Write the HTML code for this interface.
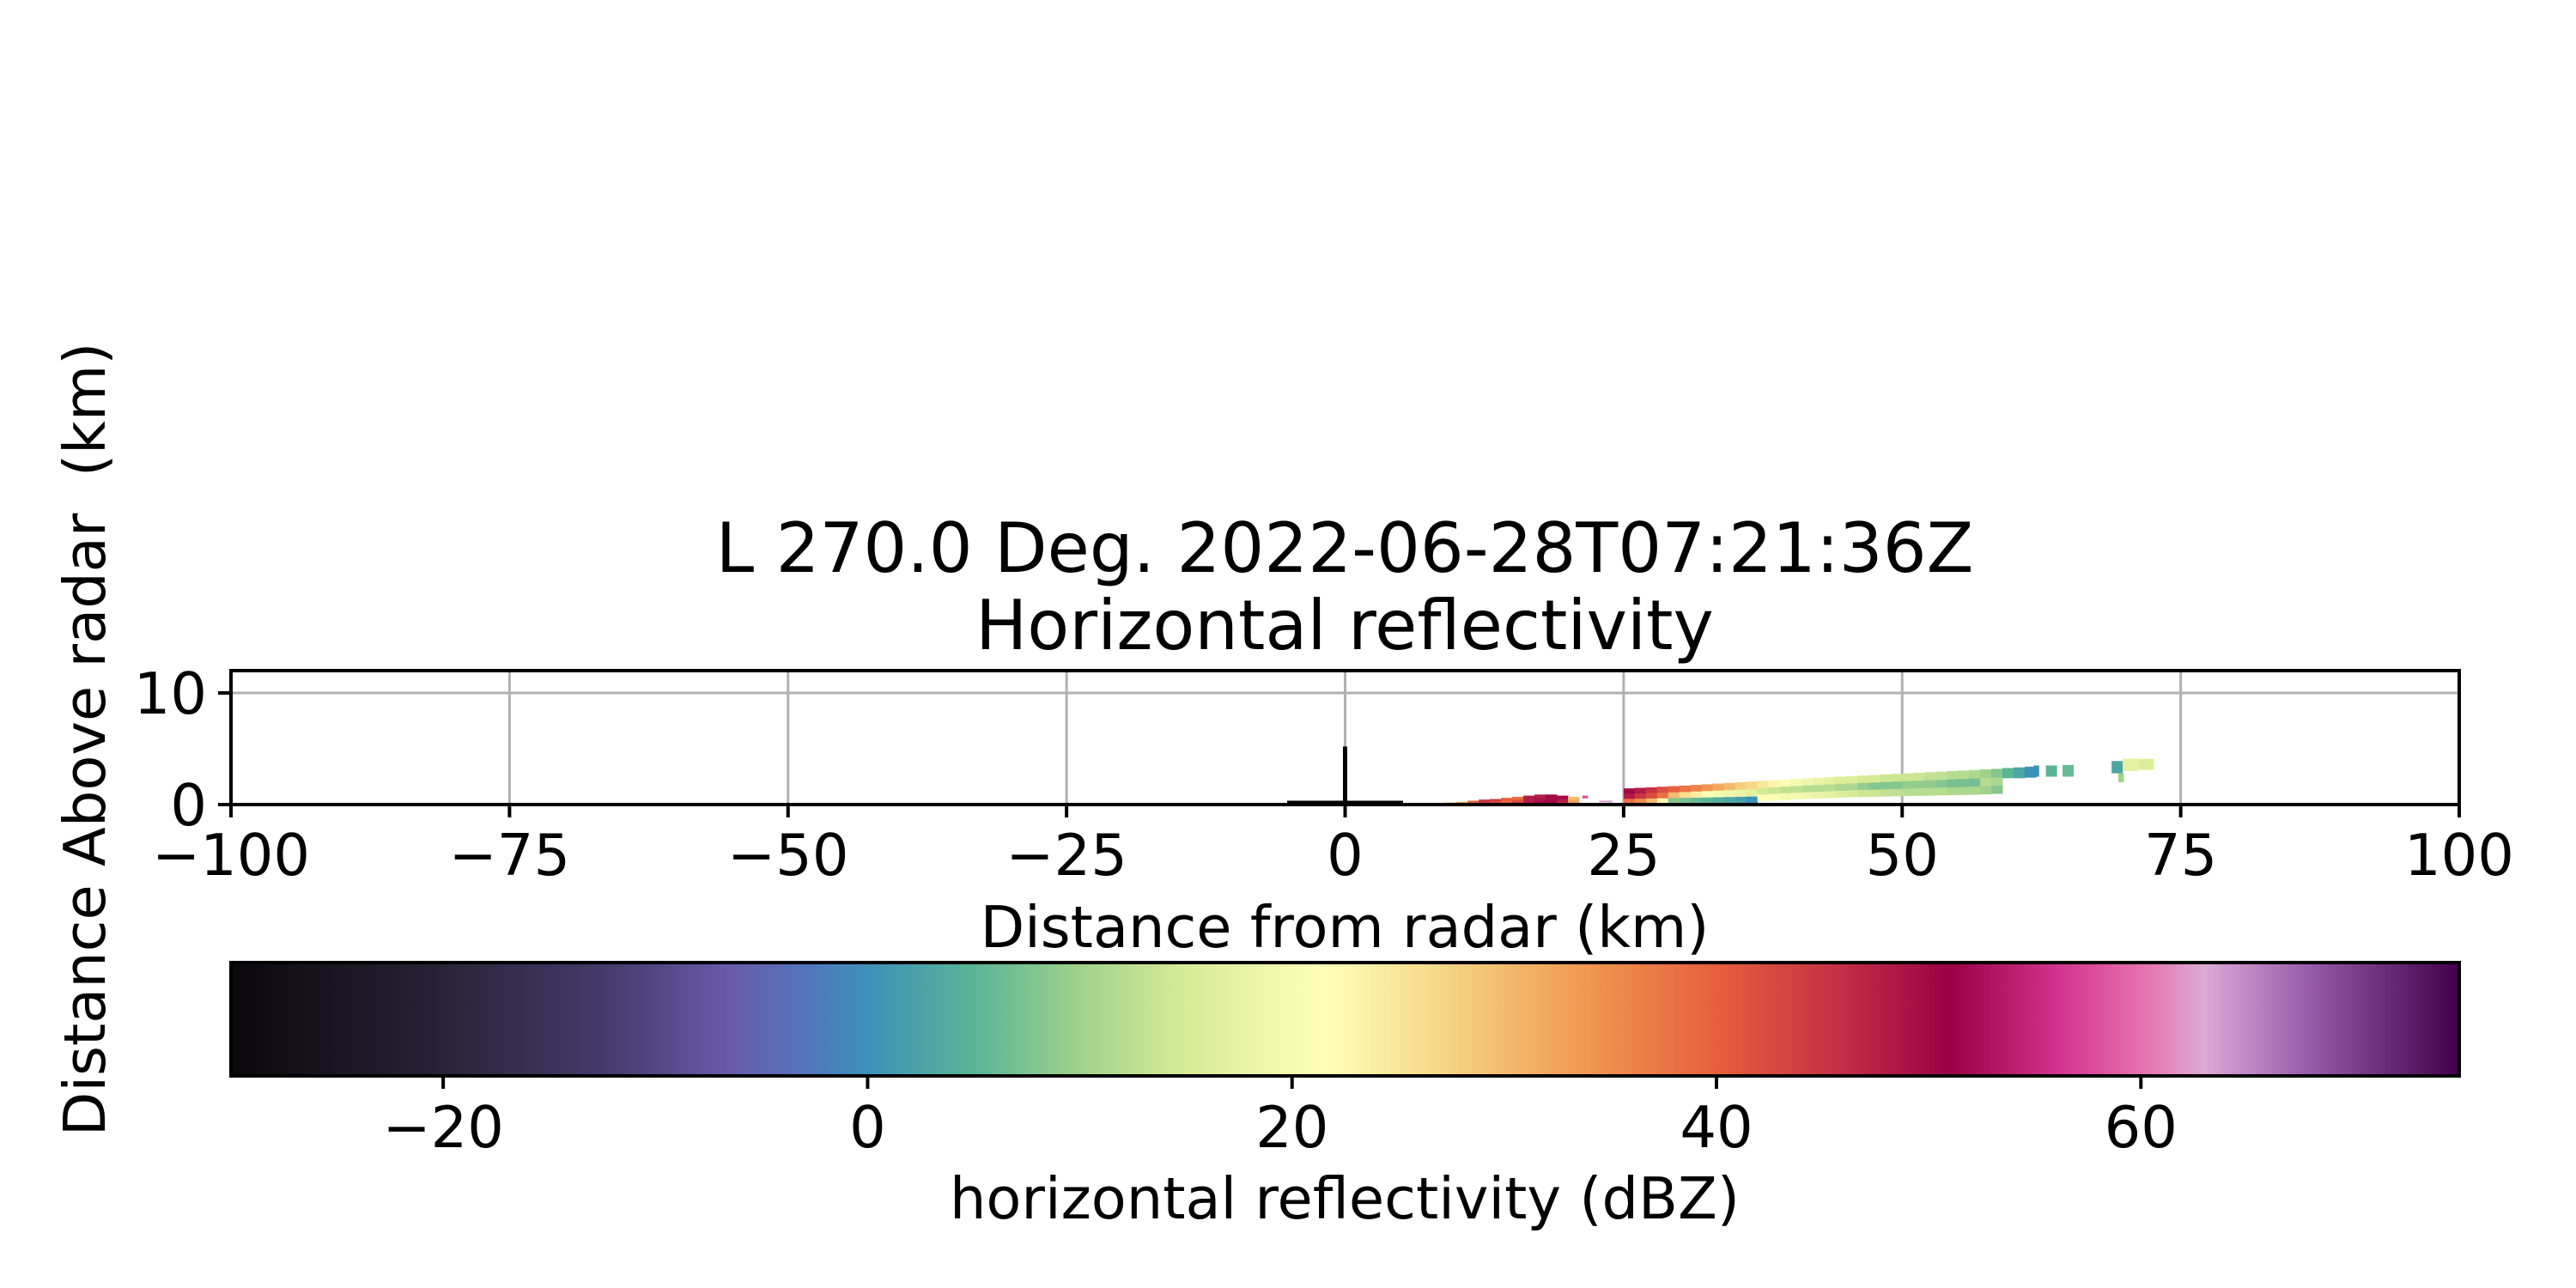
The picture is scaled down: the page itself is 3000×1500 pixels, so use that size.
<!DOCTYPE html>
<html><head><meta charset="utf-8"><style>
html,body{margin:0;padding:0;background:#fff;}
svg{display:block;font-family:"DejaVu Sans","Liberation Sans",sans-serif;}
</style></head><body>
<svg id="fig" width="3000" height="1500" viewBox="0 0 3000 1500" xmlns="http://www.w3.org/2000/svg">
<rect width="3000" height="1500" fill="#fff"/>
<text x="1566" y="666" font-size="80" text-anchor="middle">L 270.0 Deg. 2022-06-28T07:21:36Z</text>
<text x="1566" y="756" font-size="80" text-anchor="middle">Horizontal reflectivity</text>
<g id="grid"></g>
<g id="marks"></g>
<g id="axes"></g>
<text x="1566" y="1103" font-size="67" text-anchor="middle">Distance from radar (km)</text>
<text transform="translate(122,861) rotate(-90)" font-size="67" text-anchor="middle" xml:space="preserve">Distance Above radar  (km)</text>
<defs><linearGradient id="cmap" x1="0" x2="1" y1="0" y2="0"></linearGradient></defs>
<rect x="269" y="1121" width="2595" height="132" fill="url(#cmap)" stroke="#000" stroke-width="4"/>
<g id="cbticks"></g>
<text x="1566" y="1419" font-size="67" text-anchor="middle">horizontal reflectivity (dBZ)</text>
</svg>
<script>
// ---- data ----
const xTicks = [-100, -75, -50, -25, 0, 25, 50, 75, 100];
const yTicks = [0, 10];
const cbTicks = [-20, 0, 20, 40, 60];
const colRange = [6,7,8,9,10,11,12,13,14,15,16,17,18,19,20,
 25,26,27,28,29,30,31,32,33,34,35,36,37,38,39,40,41,42,43,44,45,46,47,48,49,50,51,52,53,54,55,56,57,58,59,60,61];
const colBottom = [0,0,0,0,0,0,0,0,0,0,0,0,0,0,0,
 0.1,0.1,0.1,0.1,0.1,0.1,0.1,0.1,0.1,0.1,0.1,0.1,0.35,0.4,0.45,0.5,0.55,0.58,0.62,0.66,0.7,0.72,0.74,0.76,0.78,0.8,0.82,0.84,0.86,0.88,0.9,0.92,0.95,1.0,2.4,2.4,2.45];
const colTop = [0.08,0.1,0.15,0.2,0.25,0.35,0.45,0.5,0.6,0.7,0.8,0.9,0.9,0.8,0.7,
 1.45,1.5,1.55,1.6,1.65,1.7,1.76,1.82,1.88,1.94,2.0,2.06,2.12,2.18,2.24,2.3,2.35,2.4,2.45,2.5,2.55,2.6,2.65,2.7,2.75,2.8,2.85,2.9,2.95,3.0,3.05,3.1,3.15,3.2,3.27,3.33,3.4];
const upperDbz = [-5,5,20,28,32,40,45,44,40,38,48,48,50,50,30,
 50,48,45,42,40,38,36,34,32,30,28,27,25,23,21,20,19,18,17,16,16,15,15,14,14,14,14,13,13,12,12,11,10,8,5,3,0];
const midDbz = [-5,6,21,26,31,41,45,42,39,42,48,49,50,48,32,
 48,45,42,38,30,26,24,22,20,19,18,17,15,14,13,13,12,12,12,11,11,9,8,8,8,9,9,9,8,7,7,7,12,11,5,3,0];
const lowerDbz = [-5,8,22,25,30,42,45,40,38,45,48,50,50,45,35,
 38,35,30,22,8,7,6,5,4,3,2,0,22,21,20,20,19,18,17,16,15,14,14,13,13,12,12,12,12,11,11,11,10,8,5,3,0];
// isolated gates: start km, end km, bottom km, top km, dBZ
const gateStart = [21.3, 22.8, 23.4, 61.8, 62.9, 64.4, 68.8, 69.4, 69.8, 71.2];
const gateEnd   = [21.8, 23.4, 24.0, 62.3, 63.9, 65.4, 69.8, 69.9, 71.2, 72.6];
const gateBot   = [0.55, 0.2, 0.2, 2.5, 2.5, 2.5, 2.8, 2.0, 3.0, 3.1];
const gateTopK  = [0.8, 0.35, 0.35, 3.5, 3.5, 3.55, 3.9, 2.8, 4.1, 4.1];
const gateDbz   = [58, 62, 64, 0, 5, 6, 3, 10, 17, 16];
// colormap stops
const cmVals = [-30,-20,-12,-6.5,-2.5,0,5,10,15,21.5,27,34,40,46,51,56,60.5,63,68,75];
const cmCols = ["#0a080c","#282337","#463c6e","#695aaa","#5078be","#3c91b9","#5ab496","#a0d28c","#d7eb96","#ffffb9","#f5d787","#f09650","#e65f3c","#c32d46","#9b0046","#d2328c","#e678b4","#dcaad7","#965aaa","#41004b"];

// ---- scales ----
const X0=269, X1=2864, Y0=937, Y1=781;
const xs = v => X0 + (v + 100) / 200 * (X1 - X0);
const ys = v => Y0 - v / 12 * (Y0 - Y1);
const cbs = v => X0 + (v + 30) / 105 * (X1 - X0);
const NS = "http://www.w3.org/2000/svg";
function hex(c){return [1,3,5].map(i=>parseInt(c.substr(i,2),16));}
function cmap(v){
  if(v<=cmVals[0]) return cmCols[0];
  for(let i=1;i<cmVals.length;i++){ if(v<=cmVals[i]){
    const t=(v-cmVals[i-1])/(cmVals[i]-cmVals[i-1]);const a=hex(cmCols[i-1]),b=hex(cmCols[i]);
    return "rgb("+a.map((x,j)=>Math.round(x+(b[j]-x)*t)).join(",")+")";}}
  return cmCols[cmCols.length-1];
}
function mk(tag, attrs, parent){const e=document.createElementNS(NS,tag);for(const k in attrs)e.setAttribute(k,attrs[k]);parent.appendChild(e);return e;}

// gradient
const grad=document.getElementById("cmap");
cmVals.forEach((v,i)=>{mk("stop",{offset:((v+30)/105*100)+"%","stop-color":cmCols[i]},grad);});

// grid
const grid=document.getElementById("grid");
xTicks.forEach(t=>{const l=mk("line",{x1:xs(t),x2:xs(t),y1:Y1,y2:Y0,stroke:"#b0b0b0","stroke-width":3},grid);

});
yTicks.forEach(t=>{const l=mk("line",{x1:X0,x2:X1,y1:ys(t),y2:ys(t),stroke:"#b0b0b0","stroke-width":3},grid);

});

// mesh columns
const marks=document.getElementById("marks");
colRange.forEach((r,i)=>{
  const b=colBottom[i], t=colTop[i], h=(t-b)/3;
  const vals=[lowerDbz[i],midDbz[i],upperDbz[i]];
  vals.forEach((v,j)=>{
    const z0=b+h*j, z1=b+h*(j+1);
    const c=mk("rect",{x:xs(r),y:ys(z1),width:xs(r+1)-xs(r)+0.5,height:ys(z0)-ys(z1)+0.5,fill:cmap(v)},marks);
    
    
  });
});
gateStart.forEach((s,i)=>{
  const c=mk("rect",{x:xs(s),y:ys(gateTopK[i]),width:xs(gateEnd[i])-xs(s),height:ys(gateBot[i])-ys(gateTopK[i]),fill:cmap(gateDbz[i])},marks);
  
  
});
// radar marker
const rl=mk("line",{x1:xs(0),x2:xs(0),y1:ys(0),y2:ys(5.2),stroke:"#000","stroke-width":5},marks);


const rh=mk("line",{x1:xs(-5.2),x2:xs(5.2),y1:ys(0)-2,y2:ys(0)-2,stroke:"#000","stroke-width":5},marks);



// axes
const axes=document.getElementById("axes");
const fr=mk("rect",{x:X0,y:Y1,width:X1-X0,height:Y0-Y1,fill:"none",stroke:"#000","stroke-width":4},axes);


xTicks.forEach(t=>{
  const l=mk("line",{x1:xs(t),x2:xs(t),y1:Y0,y2:Y0+15,stroke:"#000","stroke-width":4},axes);
  
  
  const tx=mk("text",{x:xs(t),y:1019,"font-size":67,"text-anchor":"middle"},axes);
  tx.textContent=(t<0?"\u2212":"")+Math.abs(t);
  
  
});
yTicks.forEach(t=>{
  const l=mk("line",{x1:X0-15,x2:X0,y1:ys(t),y2:ys(t),stroke:"#000","stroke-width":4},axes);
  
  
  const tx=mk("text",{x:X0-28,y:ys(t)+24,"font-size":67,"text-anchor":"end"},axes);
  tx.textContent=String(t);
  
  
});
// colorbar ticks
const cbg=document.getElementById("cbticks");
cbTicks.forEach(t=>{
  const l=mk("line",{x1:cbs(t),x2:cbs(t),y1:1253,y2:1268,stroke:"#000","stroke-width":4},cbg);
  
  
  const tx=mk("text",{x:cbs(t),y:1336,"font-size":67,"text-anchor":"middle"},cbg);
  tx.textContent=(t<0?"\u2212":"")+Math.abs(t);
  
  
});
</script>
</body></html>
